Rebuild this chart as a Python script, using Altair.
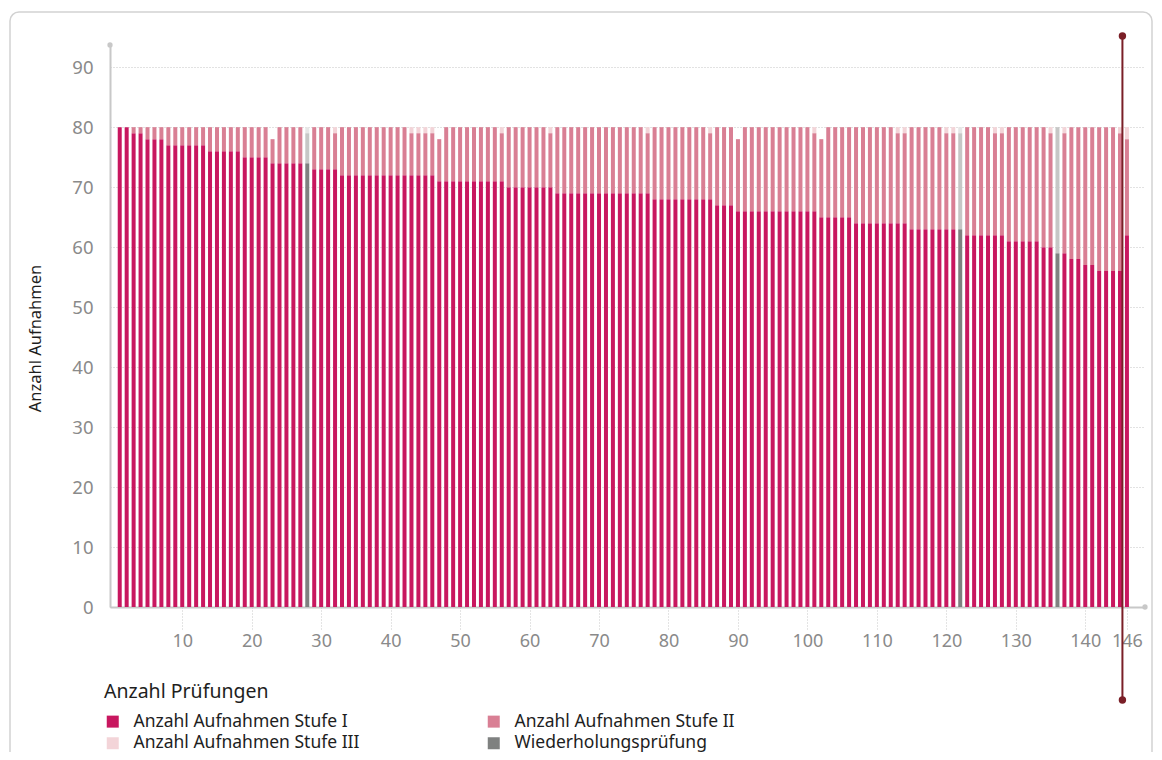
import altair as alt
import pandas as pd

# ---- data ----
bar_no = list(range(1, 147))

stufe1 = [80, 80, 79, 79, 78, 78, 78, 77, 77, 77,
          77, 77, 77, 76, 76, 76, 76, 76, 75, 75,
          75, 75, 74, 74, 74, 74, 74, 74, 73, 73,
          73, 73, 72, 72, 72, 72, 72, 72, 72, 72,
          72, 72, 72, 72, 72, 72, 71, 71, 71, 71,
          71, 71, 71, 71, 71, 71, 70, 70, 70, 70,
          70, 70, 70, 69, 69, 69, 69, 69, 69, 69,
          69, 69, 69, 69, 69, 69, 69, 68, 68, 68,
          68, 68, 68, 68, 68, 68, 67, 67, 67, 66,
          66, 66, 66, 66, 66, 66, 66, 66, 66, 66,
          66, 65, 65, 65, 65, 65, 64, 64, 64, 64,
          64, 64, 64, 64, 63, 63, 63, 63, 63, 63,
          63, 63, 62, 62, 62, 62, 62, 62, 61, 61,
          61, 61, 61, 60, 60, 59, 59, 58, 58, 57,
          57, 56, 56, 56, 56, 62]

stufe2 = [0, 0, 1, 1, 2, 2, 2, 3, 3, 3,
          3, 3, 3, 4, 4, 4, 4, 4, 5, 5,
          5, 5, 4, 6, 6, 6, 6, 5, 7, 7,
          7, 6, 8, 8, 8, 8, 8, 8, 8, 8,
          8, 8, 7, 7, 7, 7, 7, 9, 9, 9,
          9, 9, 9, 9, 9, 8, 10, 10, 10, 10,
          10, 10, 9, 11, 11, 11, 11, 11, 11, 11,
          11, 11, 11, 11, 11, 11, 10, 12, 12, 12,
          12, 12, 12, 12, 12, 11, 13, 13, 13, 12,
          14, 14, 14, 14, 14, 14, 14, 14, 14, 14,
          13, 13, 15, 15, 15, 15, 16, 16, 16, 16,
          16, 16, 15, 15, 17, 17, 17, 17, 17, 16,
          16, 16, 18, 18, 18, 18, 17, 17, 19, 19,
          19, 19, 19, 20, 19, 21, 20, 22, 22, 23,
          23, 24, 24, 24, 23, 16]

stufe3 = [0, 0, 0, 0, 0, 0, 0, 0, 0, 0,
          0, 0, 0, 0, 0, 0, 0, 0, 0, 0,
          0, 0, 0, 0, 0, 0, 0, 1, 0, 0,
          0, 1, 0, 0, 0, 0, 0, 0, 0, 0,
          0, 0, 1, 1, 1, 1, 0, 0, 0, 0,
          0, 0, 0, 0, 0, 1, 0, 0, 0, 0,
          0, 0, 1, 0, 0, 0, 0, 0, 0, 0,
          0, 0, 0, 0, 0, 0, 1, 0, 0, 0,
          0, 0, 0, 0, 0, 1, 0, 0, 0, 0,
          0, 0, 0, 0, 0, 0, 0, 0, 0, 0,
          1, 0, 0, 0, 0, 0, 0, 0, 0, 0,
          0, 0, 1, 1, 0, 0, 0, 0, 0, 1,
          1, 1, 0, 0, 0, 0, 1, 1, 0, 0,
          0, 0, 0, 0, 1, 0, 1, 0, 0, 0,
          0, 0, 0, 0, 1, 2]

retest_bars = [28, 122, 136]

y_ticks = [0, 10, 20, 30, 40, 50, 60, 70, 80, 90]
x_ticks = [10, 20, 30, 40, 50, 60, 70, 80, 90, 100, 110, 120, 130, 140, 146]

categories = ["Anzahl Aufnahmen Stufe I", "Anzahl Aufnahmen Stufe II",
              "Anzahl Aufnahmen Stufe III", "Wiederholungsprüfung",
              "Wiederholungsprüfung Stufe II", "Wiederholungsprüfung Stufe III"]
palette = ["#c8175f", "#d97f94", "#f3d4d8", "#7f8180", "#c6c7c6", "#e6e6e6"]

cursor_bar = 145.35
x_domain = [-0.4, 148.6]
y_domain = [0, 93.7]

# ---- build table ----
rows = []
for n, a, b, c in zip(bar_no, stufe1, stufe2, stufe3):
    base = 3 if n in retest_bars else 0
    for k, v in enumerate((a, b, c)):
        rows.append({"bar": n, "value": v, "cat": categories[base + k], "ord": k})
df = pd.DataFrame(rows)

xs = alt.Scale(domain=x_domain, nice=False, zero=False, padding=0)
ys = alt.Scale(domain=y_domain, nice=False, zero=False, padding=0)

bars = alt.Chart(df).mark_bar(size=4).encode(
    x=alt.X("bar:Q", scale=xs, title=None,
            axis=alt.Axis(values=x_ticks, grid=False, labelFontSize=18,
                          labelColor="#8a8a8a", domainColor="#c8c8c8",
                          domainWidth=2, tickColor="#c8c8c8", tickDash=[1, 2],
                          tickSize=22, tickWidth=1, labelPadding=3,
                          labelFlush=False, labelOverlap=False)),
    y=alt.Y("value:Q", stack="zero", scale=ys, title="Anzahl Aufnahmen",
            axis=alt.Axis(values=y_ticks, grid=True, gridDash=[1, 2],
                          gridColor="#c4c4c4", ticks=False, labelFontSize=18.5,
                          labelColor="#8a8a8a", labelPadding=17,
                          domainColor="#c8c8c8", domainWidth=2,
                          titleFontSize=16.5, titleColor="#1e1e1e",
                          titleFontWeight="normal", titleAngle=270,
                          titleX=-75, titleY=293, titleAlign="center",
                          titleBaseline="middle")),
    color=alt.Color("cat:N", scale=alt.Scale(domain=categories, range=palette),
                    legend=alt.Legend(values=categories[:4], title="Anzahl Prüfungen",
                                      orient="none", legendX=-6, legendY=638,
                                      direction="horizontal",
                                      columns=2, columnPadding=125, rowPadding=3,
                                      symbolType="square", symbolSize=144,
                                      symbolStrokeWidth=0, labelOffset=12,
                                      labelFontSize=17.5, labelColor="#1e1e1e",
                                      titleFontSize=19.5, titleColor="#1e1e1e",
                                      titleFontWeight="normal", titlePadding=10,
                                      labelLimit=400)),
    order=alt.Order("ord:Q"),
)

axis_ends = pd.DataFrame({"bar": [x_domain[0], x_domain[1]], "value": [y_domain[1], 0]})
dots = alt.Chart(axis_ends).mark_circle(size=28, color="#c8c8c8", opacity=1).encode(
    x=alt.X("bar:Q", scale=xs), y=alt.Y("value:Q", scale=ys))

cursor = pd.DataFrame({"bar": [cursor_bar], "value": [95.2], "value2": [-15.5]})
rule = alt.Chart(cursor).mark_rule(color="#7a1f27", strokeWidth=2).encode(
    x=alt.X("bar:Q", scale=xs), y=alt.Y("value:Q", scale=ys), y2="value2:Q")
cursor_ends = pd.DataFrame({"bar": [cursor_bar, cursor_bar], "value": [95.2, -15.5]})
cdots = alt.Chart(cursor_ends).mark_circle(size=55, color="#7a1f27", opacity=1).encode(
    x=alt.X("bar:Q", scale=xs), y=alt.Y("value:Q", scale=ys))

frame = alt.Chart(pd.DataFrame({"k": [0]})).mark_rect(
    fillOpacity=0, stroke="#d2d2d2", strokeWidth=1.5, cornerRadius=9).encode(
    x=alt.value(-100), x2=alt.value(1042), y=alt.value(-33), y2=alt.value(800))

chart = alt.layer(frame, bars, dots, rule, cdots).properties(
    width=1035, height=562,
    autosize=alt.AutoSizeParams(type="none"),
    padding={"left": 102, "top": 37, "right": 9, "bottom": 145},
    background="white",
).configure(font="Noto Sans").configure_view(strokeWidth=0)

chart.save("out.html", embed_options={"renderer": "svg", "actions": False})
